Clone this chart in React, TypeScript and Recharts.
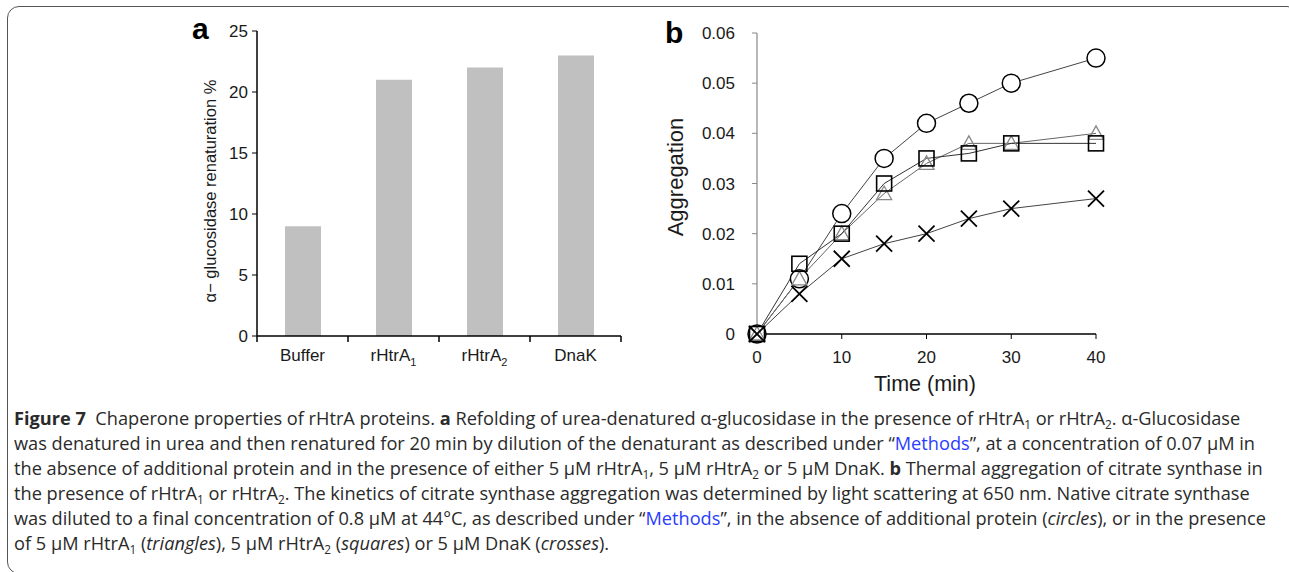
import React from 'react';
import {
  BarChart,
  Bar,
  LineChart,
  Line,
  XAxis,
  YAxis,
} from 'recharts';

// panel a
const treatments = ['Buffer', 'rHtrA1', 'rHtrA2', 'DnaK'];
const renaturation = [9, 21, 22, 23];
const renatTicks = [0, 5, 10, 15, 20, 25];

// panel b
const timeMin = [0, 5, 10, 15, 20, 25, 30, 40];
const circles = [0, 0.011, 0.024, 0.035, 0.042, 0.046, 0.05, 0.055];
const triangles = [0, 0.011, 0.02, 0.028, 0.034, 0.038, 0.038, 0.04];
const squares = [0, 0.014, 0.02, 0.03, 0.035, 0.036, 0.038, 0.038];
const crosses = [0, 0.008, 0.015, 0.018, 0.02, 0.023, 0.025, 0.027];
const timeTicks = [0, 10, 20, 30, 40];
const aggTicks = [0, 0.01, 0.02, 0.03, 0.04, 0.05, 0.06];

const barData = treatments.map((name, i) => ({ name, value: renaturation[i] }));
const lineData = timeMin.map((t, i) => ({
  t,
  circles: circles[i],
  triangles: triangles[i],
  squares: squares[i],
  crosses: crosses[i],
}));

const AXIS_FONT = '"Liberation Sans", Arial, sans-serif';
const TEXT = '#1a1a1a';
const BAND_A = 364 / treatments.length;

function CategoryTick(props: any) {
  const { x, y, payload, index } = props;
  const m = /^(rHtrA)(\d)$/.exec(payload.value);
  const half = BAND_A / 2;
  return (
    <g>
      <line x1={x - half} y1={y} x2={x - half} y2={y + 6} stroke="#000" strokeWidth={1.5} />
      {index === treatments.length - 1 && (
        <line x1={x + half} y1={y} x2={x + half} y2={y + 6} stroke="#000" strokeWidth={1.5} />
      )}
      <text x={x} y={y + 25} textAnchor="middle" fontSize={17} fontFamily={AXIS_FONT} fill={TEXT}>
        {m ? (
          <>
            <tspan>{m[1]}</tspan>
            <tspan dy={5} fontSize={11}>{m[2]}</tspan>
          </>
        ) : (
          payload.value
        )}
      </text>
    </g>
  );
}

function CircleDot(props: any) {
  const { cx, cy } = props;
  return <circle cx={cx} cy={cy} r={9} fill="#fff" stroke="#000" strokeWidth={1.5} />;
}

function TriangleDot(props: any) {
  const { cx, cy } = props;
  const s = 7.5;
  return (
    <polygon
      points={`${cx},${cy - s} ${cx + s},${cy + s * 0.8} ${cx - s},${cy + s * 0.8}`}
      fill="none"
      stroke="#888"
      strokeWidth={1.3}
    />
  );
}

function SquareDot(props: any) {
  const { cx, cy } = props;
  return (
    <rect x={cx - 7.5} y={cy - 7.5} width={15} height={15} fill="none" stroke="#000" strokeWidth={1.6} />
  );
}

function CrossDot(props: any) {
  const { cx, cy } = props;
  const s = 8;
  return (
    <g stroke="#000" strokeWidth={1.8}>
      <line x1={cx - s} y1={cy - s} x2={cx + s} y2={cy + s} />
      <line x1={cx - s} y1={cy + s} x2={cx + s} y2={cy - s} />
    </g>
  );
}

const Sub = ({ children }: { children: React.ReactNode }) => (
  <sub style={{ fontSize: '0.65em', verticalAlign: '-0.3em', lineHeight: 0 }}>{children}</sub>
);
const Link = ({ children }: { children: React.ReactNode }) => (
  <span style={{ color: '#2b3cff' }}>{children}</span>
);

export default function App() {
  return (
    <div
      style={{
        position: 'absolute',
        left: 0,
        top: 0,
        width: 1289,
        height: 572,
        overflow: 'hidden',
        background: '#fff',
      }}
    >
      <div
        style={{
          position: 'absolute',
          left: 7,
          top: 6,
          width: 1292,
          height: 568,
          border: '1.3px solid #555',
          borderRadius: 12,
          boxSizing: 'border-box',
        }}
      />

      <div style={{ position: 'absolute', left: 192, top: 12, fontFamily: AXIS_FONT, fontWeight: 'bold', fontSize: 30, color: '#000' }}>
        a
      </div>
      <div style={{ position: 'absolute', left: 665, top: 16, fontFamily: AXIS_FONT, fontWeight: 'bold', fontSize: 30, color: '#000' }}>
        b
      </div>

      <div style={{ position: 'absolute', left: 150, top: 0 }}>
        <BarChart
          width={500}
          height={390}
          data={barData}
          margin={{ top: 31, right: 29, left: 0, bottom: 0 }}
          barCategoryGap={0}
        >
          <XAxis
            dataKey="name"
            height={54}
            tickSize={0}
            tickMargin={0}
            tickLine={false}
            axisLine={{ stroke: '#000', strokeWidth: 1.5 }}
            tick={<CategoryTick />}
            interval={0}
          />
          <XAxis xAxisId="top" dataKey="name" orientation="top" height={0} tick={false} tickLine={false} axisLine={{ stroke: '#000', strokeWidth: 1.5 }} />
          <YAxis
            width={107}
            domain={[0, 25]}
            ticks={renatTicks}
            tickSize={5}
            tickMargin={4}
            tickLine={{ stroke: '#000' }}
            axisLine={{ stroke: '#000', strokeWidth: 1.5 }}
            tick={{ fontSize: 17, fontFamily: AXIS_FONT, fill: TEXT }}
            label={{
              content: () => (
                <text
                  x={60}
                  y={191}
                  transform="rotate(-90, 60, 191)"
                  textAnchor="middle"
                  dominantBaseline="central"
                  fontSize={16.5}
                  fontFamily={AXIS_FONT}
                  fill={TEXT}
                >
                  α− glucosidase renaturation %
                </text>
              ),
            }}
          />
          <YAxis yAxisId="right" orientation="right" width={0} domain={[0, 25]} tick={false} tickLine={false} axisLine={{ stroke: '#000', strokeWidth: 1.5 }} />
          <Bar dataKey="value" fill="#c0c0c0" barSize={36} isAnimationActive={false} />
        </BarChart>
      </div>

      <div style={{ position: 'absolute', left: 640, top: 0 }}>
        <LineChart
          width={480}
          height={400}
          data={lineData}
          margin={{ top: 33, right: 24, left: 0, bottom: 0 }}
        >
          <XAxis
            dataKey="t"
            type="number"
            domain={[0, 40]}
            ticks={timeTicks}
            height={66}
            tickSize={5}
            tickMargin={12}
            tickLine={{ stroke: '#000' }}
            axisLine={{ stroke: '#000', strokeWidth: 1.5 }}
            tick={{ fontSize: 17, fontFamily: AXIS_FONT, fill: TEXT }}
            label={{
              content: () => (
                <text x={285} y={391} textAnchor="middle" fontSize={21.5} fontFamily={AXIS_FONT} fill={TEXT}>
                  Time (min)
                </text>
              ),
            }}
          />
          <XAxis xAxisId="top" dataKey="t" type="number" domain={[0, 40]} orientation="top" height={0} tick={false} tickLine={false} axisLine={{ stroke: '#000', strokeWidth: 1.5 }} />
          <YAxis
            width={117}
            domain={[0, 0.06]}
            ticks={aggTicks}
            tickSize={5}
            tickMargin={17}
            tickLine={{ stroke: '#888' }}
            axisLine={{ stroke: '#888', strokeWidth: 1.2 }}
            tick={{ fontSize: 17, fontFamily: AXIS_FONT, fill: TEXT }}
            label={{
              content: () => (
                <text
                  x={35}
                  y={177}
                  transform="rotate(-90, 35, 177)"
                  textAnchor="middle"
                  dominantBaseline="central"
                  fontSize={22}
                  fontFamily={AXIS_FONT}
                  fill={TEXT}
                >
                  Aggregation
                </text>
              ),
            }}
          />
          <YAxis yAxisId="right" orientation="right" width={0} domain={[0, 0.06]} tick={false} tickLine={false} axisLine={{ stroke: '#000', strokeWidth: 1.5 }} />
          <Line dataKey="circles" stroke="#444" strokeWidth={1} dot={<CircleDot />} isAnimationActive={false} />
          <Line dataKey="triangles" stroke="#666" strokeWidth={1} dot={<TriangleDot />} isAnimationActive={false} />
          <Line dataKey="squares" stroke="#333" strokeWidth={1} dot={<SquareDot />} isAnimationActive={false} />
          <Line dataKey="crosses" stroke="#444" strokeWidth={1} dot={<CrossDot />} isAnimationActive={false} />
        </LineChart>
      </div>

      <div
        style={{
          position: 'absolute',
          left: 14,
          top: 406,
          fontFamily: '"Open Sans", "Noto Sans", sans-serif',
          fontSize: 18.2,
          lineHeight: '25px',
          color: '#2a2a2a',
          whiteSpace: 'nowrap',
        }}
      >
        <div>
          <b>Figure 7</b>&nbsp; Chaperone properties of rHtrA proteins. <b>a</b> Refolding of urea-denatured α-glucosidase in the presence of rHtrA<Sub>1</Sub> or rHtrA<Sub>2</Sub>. α-Glucosidase
        </div>
        <div>
          was denatured in urea and then renatured for 20 min by dilution of the denaturant as described under “<Link>Methods</Link>”, at a concentration of 0.07 μM in
        </div>
        <div>
          the absence of additional protein and in the presence of either 5 μM rHtrA<Sub>1</Sub>, 5 μM rHtrA<Sub>2</Sub> or 5 μM DnaK. <b>b</b> Thermal aggregation of citrate synthase in
        </div>
        <div>
          the presence of rHtrA<Sub>1</Sub> or rHtrA<Sub>2</Sub>. The kinetics of citrate synthase aggregation was determined by light scattering at 650 nm. Native citrate synthase
        </div>
        <div>
          was diluted to a final concentration of 0.8 μM at 44°C, as described under “<Link>Methods</Link>”, in the absence of additional protein (<i>circles</i>), or in the presence
        </div>
        <div>
          of 5 μM rHtrA<Sub>1</Sub> (<i>triangles</i>), 5 μM rHtrA<Sub>2</Sub> (<i>squares</i>) or 5 μM DnaK (<i>crosses</i>).
        </div>
      </div>
    </div>
  );
}
